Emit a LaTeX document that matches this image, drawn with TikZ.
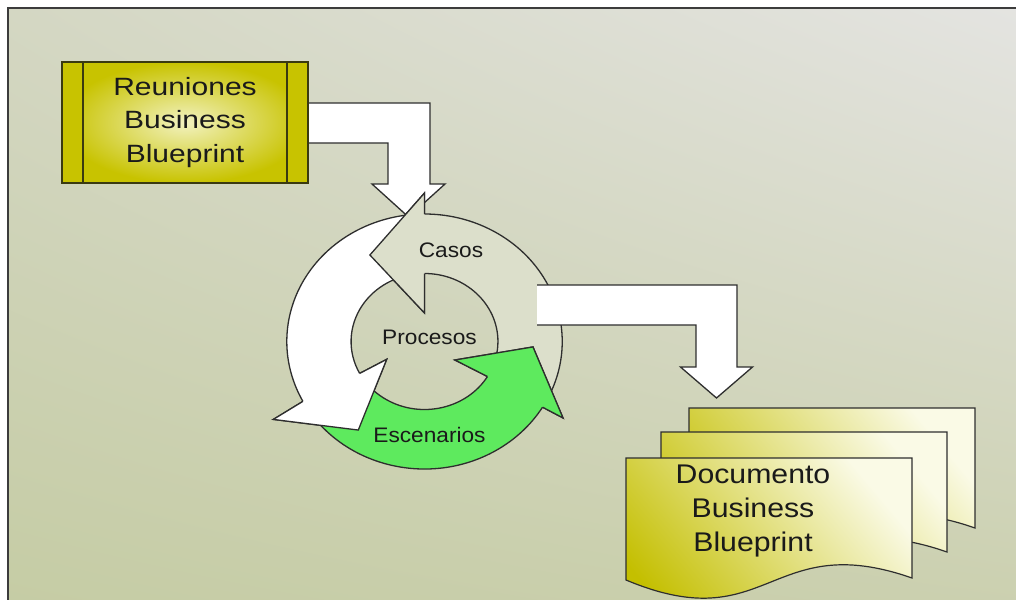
\documentclass[tikz,border=0pt]{standalone}
\usepackage{fontspec}
\usetikzlibrary{shadings}
\setmainfont{Liberation Sans}
\newfontfamily\boxfont[FakeStretch=1.2]{Liberation Sans}
\newfontfamily\docfont[FakeStretch=1.12]{Liberation Sans}
\newfontfamily\ringfont[FakeStretch=1.08]{Liberation Sans}

\definecolor{bgTL}{HTML}{D4D7C3}
\definecolor{bgTR}{HTML}{E4E4E1}
\definecolor{bgBL}{HTML}{C5CCA4}
\definecolor{bgBR}{HTML}{CBD0AF}
\definecolor{frameC}{HTML}{3C3C3C}
\definecolor{lineC}{HTML}{2E2E2E}
\definecolor{boxEdge}{HTML}{3A3A10}
\definecolor{boxDark}{HTML}{C8C300}
\definecolor{boxLight}{HTML}{F2F2C0}
\definecolor{casosC}{HTML}{DCDFCB}
\definecolor{greenC}{HTML}{5EEA5E}
\definecolor{docDark}{HTML}{C4BF00}
\definecolor{docMid}{HTML}{DCD84E}
\definecolor{docLight}{HTML}{FAFAE6}
\definecolor{textC}{HTML}{1A1A1A}

\begin{document}
\begin{tikzpicture}[x=1pt, y=-1pt, line join=miter,
  outline/.style={draw=lineC, line width=1.3pt},
  reunbox/.style={rectangle, draw=boxEdge, line width=1.2pt,
    minimum width=246pt, minimum height=121pt,
    inner color=boxLight, outer color=boxDark,
    align=center, text=textC,
    font=\boxfont\fontsize{25}{33.5}\selectfont,
    path picture={
      \fill[boxDark] (path picture bounding box.north west) rectangle
        ([xshift=21pt]path picture bounding box.south west);
      \fill[boxDark] ([xshift=-21pt]path picture bounding box.north east) rectangle
        (path picture bounding box.south east);
      \draw[boxEdge, line width=1.2pt]
        ([xshift=21pt]path picture bounding box.north west) --
        ([xshift=21pt]path picture bounding box.south west);
      \draw[boxEdge, line width=1.2pt]
        ([xshift=-21pt]path picture bounding box.north east) --
        ([xshift=-21pt]path picture bounding box.south east);
    }},
  ringlabel/.style={text=textC, font=\ringfont\fontsize{21}{25}\selectfont},
  doclabel/.style={align=center, text=textC,
    font=\docfont\fontsize{27}{34}\selectfont},
  docshade/.style={top color=docLight, middle color=docMid,
    bottom color=docDark, shading angle=-50},
  sheet/.pic={
    \path[docshade, draw=lineC, line width=1.2pt]
      (0,0) -- (286,0) -- (286,120)
      .. controls (143,70) and (143,182) .. (0,122) -- cycle;
  }]

\useasboundingbox (0,0) rectangle (1016,599);
\clip (0,0) rectangle (1016,599);

% page and slide background
\fill[white] (0,0) rectangle (1016,599);
\shade[upper left=bgTL, upper right=bgTR, lower left=bgBL, lower right=bgBR]
  (8,8) rectangle (1020,610);
\draw[frameC, line width=2pt] (8,8) rectangle (1020,610);

% bent block arrow from the meetings box down into the cycle
\filldraw[outline, fill=white]
  (296,103) -- (430,103) -- (430,184) -- (445,184) -- (408.5,217)
  -- (372,184) -- (388,184) -- (388,143) -- (296,143) -- cycle;

% meetings box
\node[reunbox] (reun) at (185,122.5) {Reuniones\\Business\\Blueprint};

% circular cycle of three curved arrows
\begin{scope}[shift={(424.5,341.5)}, xscale=1.08, yscale=-1]
  % full arrows (body + head)
  \filldraw[outline, fill=casosC]
    (-28:127.5) arc[start angle=-28, end angle=90, radius=127.5]
    -- (90:148.5) -- (120.3:100.2) -- (90:28.5) -- (90:68)
    arc[start angle=90, end angle=-28, radius=68] -- cycle;
  \filldraw[outline, fill=white]
    (93:127.5) arc[start angle=93, end angle=208, radius=127.5]
    -- (209.1:160.2) -- (235.3:107.7) -- (207:39.3) -- (208:68)
    arc[start angle=208, end angle=93, radius=68] -- cycle;
  \filldraw[outline, fill=greenC]
    (211:127.5) arc[start angle=211, end angle=329, radius=127.5]
    -- (329.2:149.3) -- (356.9:100.6) -- (326.7:33.7) -- (329:68)
    arc[start angle=329, end angle=211, radius=68] -- cycle;
  % heads again, each lying over the tail of the next arrow
  \filldraw[outline, fill=casosC]
    (90:127.5) -- (90:148.5) -- (120.3:100.2) -- (90:28.5) -- (90:68);
  \filldraw[outline, fill=white]
    (208:127.5) -- (209.1:160.2) -- (235.3:107.7) -- (207:39.3) -- (208:68);
  \filldraw[outline, fill=greenC]
    (329:127.5) -- (329.2:149.3) -- (356.9:100.6) -- (326.7:33.7) -- (329:68);
\end{scope}

\node[ringlabel] (casos) at (451,250) {Casos};
\node[ringlabel] (procesos) at (429.5,337.5) {Procesos};
\node[ringlabel] (escenarios) at (429.5,435) {Escenarios};

% bent block arrow from the cycle to the document stack
\fill[white]
  (537,285) -- (737,285) -- (737,367) -- (752.5,367) -- (716.5,398)
  -- (680.5,367) -- (696,367) -- (696,325) -- (537,325) -- cycle;
\draw[outline]
  (537,285) -- (737,285) -- (737,367) -- (752.5,367) -- (716.5,398)
  -- (680.5,367) -- (696,367) -- (696,325) -- (537,325);

% stack of documents
\pic at (689,408) {sheet};
\pic at (661,432) {sheet};
\pic at (626,458) {sheet};
\node[doclabel] (doc) at (753,511) {Documento\\Business\\Blueprint};

\end{tikzpicture}
\end{document}
